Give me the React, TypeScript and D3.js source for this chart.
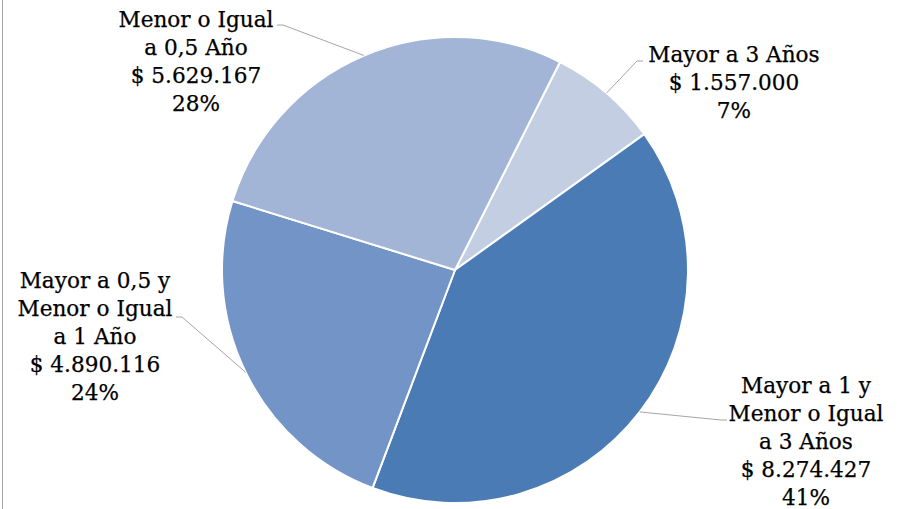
import React from "react";
import * as d3 from "d3";

const categories = [
  "Mayor a 3 Años",
  "Mayor a 1 y Menor o Igual a 3 Años",
  "Mayor a 0,5 y Menor o Igual a 1 Año",
  "Menor o Igual a 0,5 Año",
];
const values = [1557000, 8274427, 4890116, 5629167];
const valueLabels = ["$ 1.557.000", "$ 8.274.427", "$ 4.890.116", "$ 5.629.167"];
const percentLabels = ["7%", "41%", "24%", "28%"];
const nameLines = [
  ["Mayor a 3 Años"],
  ["Mayor a 1 y", "Menor o Igual", "a 3 Años"],
  ["Mayor a 0,5 y", "Menor o Igual", "a 1 Año"],
  ["Menor o Igual", "a 0,5 Año"],
];
const colors = ["#c3cee3", "#4a7bb5", "#7394c6", "#a2b5d6"];

// layout of labels (center x, first baseline y, leader attach point)
const labelLayout = [
  { cx: 734, y0: 62, ax: 643, ay: 61, side: "right" },
  { cx: 806, y0: 393, ax: 727, ay: 420, side: "right" },
  { cx: 95, y0: 288, ax: 176, ay: 317, side: "left" },
  { cx: 196, y0: 27, ax: 277, ay: 25, side: "left" },
];

const W = 902;
const H = 509;
const CX = 455;
const CY = 270;
const R = 233;
const START = (26.8 * Math.PI) / 180;
const LH = 28;

export default function App() {
  const pie = d3
    .pie<number>()
    .sort(null)
    .value((d) => d)
    .startAngle(START)
    .endAngle(START + 2 * Math.PI);
  const arcs = pie(values);
  const arc = d3.arc<d3.PieArcDatum<number>>().innerRadius(0).outerRadius(R);

  return (
    <svg
      width={W}
      height={H}
      style={{ position: "absolute", left: 0, top: 0, background: "#fff" }}
    >
      <line x1={2.5} y1={0} x2={2.5} y2={H} stroke="#a6a6a6" strokeWidth={1} />
      <g transform={`translate(${CX},${CY})`}>
        {arcs.map((a, i) => (
          <path key={categories[i]} d={arc(a) || ""} fill={colors[i]} stroke="#fff" strokeWidth={2} />
        ))}
      </g>
      {arcs.map((a, i) => {
        const mid = (a.startAngle + a.endAngle) / 2;
        const px = CX + R * Math.sin(mid);
        const py = CY - R * Math.cos(mid);
        const L = labelLayout[i];
        const ex = L.side === "left" ? L.ax + 6 : L.ax - 6;
        return (
          <polyline
            key={"l" + i}
            points={`${px},${py} ${ex},${L.ay} ${L.ax},${L.ay}`}
            fill="none"
            stroke="#a6a6a6"
            strokeWidth={1}
          />
        );
      })}
      {arcs.map((a, i) => {
        const L = labelLayout[i];
        const lines = [...nameLines[i], valueLabels[i], percentLabels[i]];
        return (
          <text
            key={"t" + i}
            x={L.cx}
            textAnchor="middle"
            fontFamily="'DejaVu Serif', serif"
            fontSize={21.6}
            fill="#000"
            stroke="#000"
            strokeWidth={0.25}
          >
            {lines.map((ln, j) => (
              <tspan key={j} x={L.cx} y={L.y0 + j * LH}>
                {ln}
              </tspan>
            ))}
          </text>
        );
      })}
    </svg>
  );
}
